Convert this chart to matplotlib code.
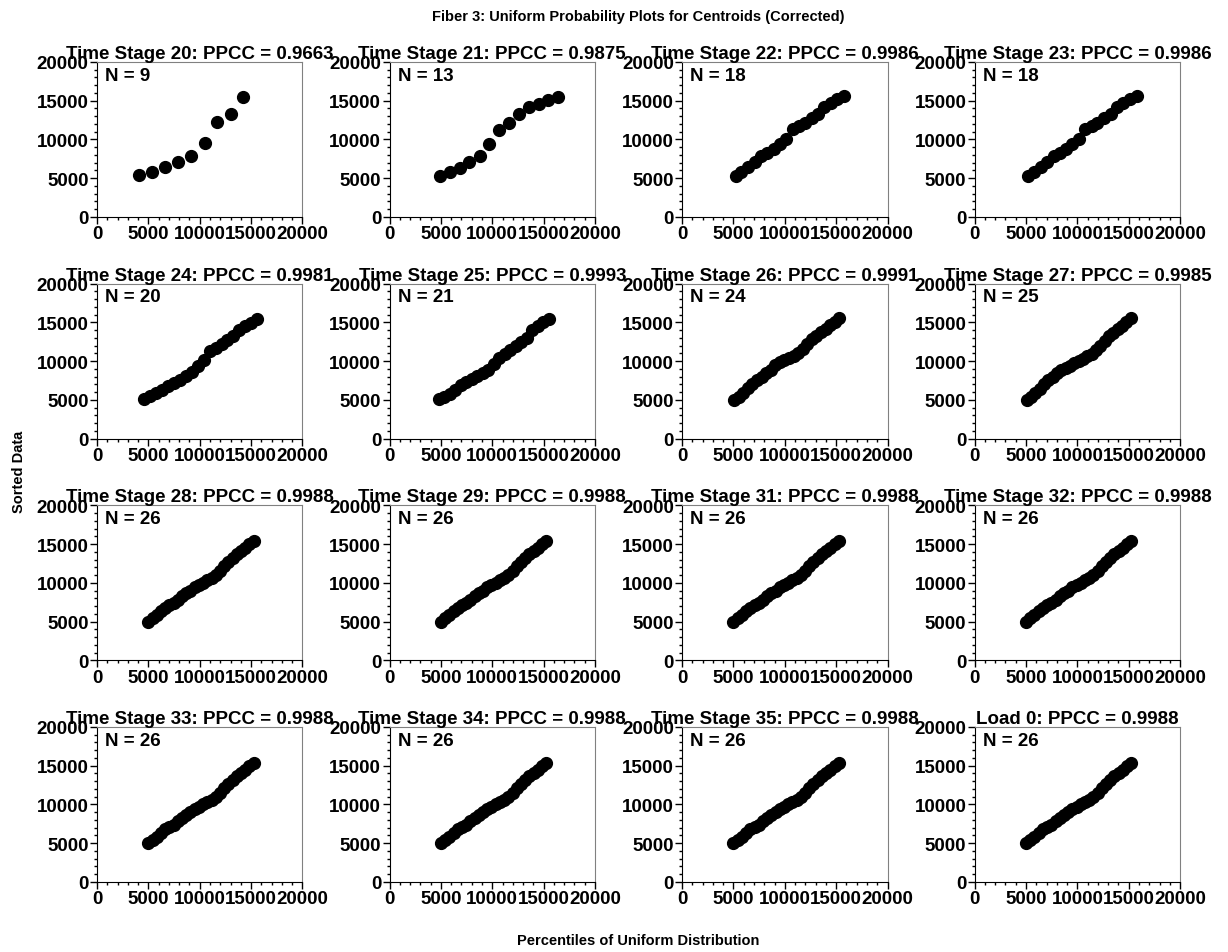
import numpy as np
import matplotlib.pyplot as plt
from matplotlib.ticker import MultipleLocator

plt.rcParams['font.family'] = ['Liberation Sans', 'DejaVu Sans']
plt.rcParams['font.weight'] = 'bold'

# stage data (percentile, sorted centroid)
x20 = [4060, 5370, 6570, 7870, 9170, 10470, 11700, 13000, 14240]
y20 = [5360, 5800, 6400, 7100, 7870, 9520, 12200, 13330, 15500]

x21 = [4900, 5880, 6830, 7780, 8760, 9700, 10690, 11640, 12580, 13530, 14510, 15460, 16400]
y21 = [5220, 5740, 6350, 7040, 7830, 9430, 11220, 12170, 13300, 14130, 14610, 15090, 15480]

x22 = [5210, 5770, 6420, 7070, 7720, 8310, 8920, 9510, 10160, 10750, 11400, 11950,
       12600, 13260, 13840, 14460, 15110, 15770]
y22 = [5300, 5740, 6390, 7040, 7830, 8260, 8700, 9350, 10090, 11300, 11740, 12170,
       12700, 13260, 14130, 14700, 15200, 15570]

x24 = [4620, 5200, 5770, 6350, 6930, 7500, 8080, 8660, 9230, 9810, 10390, 10960,
       11540, 12120, 12690, 13270, 13850, 14420, 15000, 15580]
y24 = [5100, 5500, 5900, 6300, 6800, 7200, 7600, 8100, 8600, 9400, 10200, 11300,
       11750, 12200, 12700, 13200, 14000, 14500, 14950, 15400]

x25 = [4800, 5340, 5870, 6410, 6940, 7480, 8010, 8550, 9080, 9620, 10150, 10690,
       11220, 11760, 12290, 12830, 13360, 13900, 14430, 14970, 15500]
y25 = [5050, 5400, 5800, 6300, 6900, 7300, 7650, 8050, 8500, 8900, 9600, 10400,
       10900, 11400, 11900, 12500, 13000, 14000, 14500, 15000, 15450]

x26 = [5050, 5500, 5940, 6390, 6830, 7280, 7730, 8170, 8620, 9060, 9510, 9960,
       10400, 10850, 11290, 11740, 12180, 12630, 13080, 13520, 13970, 14410, 14860, 15300]
y26 = [5000, 5400, 5900, 6500, 7100, 7500, 7900, 8400, 8900, 9500, 9900, 10200,
       10400, 10700, 11100, 11600, 12200, 12800, 13300, 13800, 14200, 14600, 15000, 15500]

x27 = [5080, 5500, 5920, 6340, 6760, 7180, 7600, 8030, 8450, 8870, 9290, 9710, 10130,
       10550, 10970, 11390, 11810, 12230, 12660, 13080, 13500, 13920, 14340, 14760, 15180]
y27 = [5000, 5400, 5900, 6400, 7100, 7500, 7900, 8400, 8800, 9100, 9400, 9700, 10000,
       10300, 10600, 10900, 11400, 12000, 12600, 13200, 13600, 14100, 14500, 15000, 15500]

# stages 28 .. load 0 all give the same set
x28 = [5000, 5410, 5820, 6230, 6640, 7050, 7460, 7870, 8280, 8690, 9100, 9510, 9920,
       10330, 10740, 11150, 11560, 11970, 12380, 12790, 13200, 13610, 14020, 14430, 14840, 15250]
y28 = [5000, 5400, 5800, 6300, 6800, 7100, 7400, 7800, 8300, 8700, 9000, 9400, 9700,
       10000, 10300, 10600, 11000, 11500, 12100, 12700, 13200, 13700, 14100, 14500, 15000, 15400]

stages = ['Time Stage 20', 'Time Stage 21', 'Time Stage 22', 'Time Stage 23',
          'Time Stage 24', 'Time Stage 25', 'Time Stage 26', 'Time Stage 27',
          'Time Stage 28', 'Time Stage 29', 'Time Stage 31', 'Time Stage 32',
          'Time Stage 33', 'Time Stage 34', 'Time Stage 35', 'Load 0']
ppcc = ['0.9663', '0.9875', '0.9986', '0.9986', '0.9981', '0.9993', '0.9991', '0.9985',
        '0.9988', '0.9988', '0.9988', '0.9988', '0.9988', '0.9988', '0.9988', '0.9988']
xs = [x20, x21, x22, x22, x24, x25, x26, x27] + [x28] * 8
ys = [y20, y21, y22, y22, y24, y25, y26, y27] + [y28] * 8

fig, axis = plt.subplots(4, 4, figsize=(12.28, 9.53), dpi=100)
plt.subplots_adjust(left=0.079, right=0.961, top=0.934, bottom=0.0735,
                    wspace=0.424, hspace=0.43)

for k in range(16):
    ax = axis[k // 4, k % 4]
    ax.plot(xs[k], ys[k], 'o', color='black', ms=8.5)
    ax.set_xlim(0, 20000)
    ax.set_ylim(0, 20000)
    ax.xaxis.set_major_locator(MultipleLocator(5000))
    ax.yaxis.set_major_locator(MultipleLocator(5000))
    ax.xaxis.set_minor_locator(MultipleLocator(1000))
    ax.yaxis.set_minor_locator(MultipleLocator(1000))
    ax.tick_params(which='major', length=5, width=1, labelsize=13.5, pad=1)
    ax.tick_params(which='minor', length=2.5, width=1)
    ax.spines['top'].set_color('#808080')
    ax.spines['right'].set_color('#808080')
    ax.set_title(stages[k] + ': PPCC = ' + ppcc[k], fontsize=13.5, fontweight='bold', pad=2)
    ax.text(0.04, 0.97, 'N = %d' % len(xs[k]), transform=ax.transAxes,
            ha='left', va='top', fontsize=13.5, fontweight='bold')

fig.suptitle('Fiber 3: Uniform Probability Plots for Centroids (Corrected)',
             x=0.52, y=0.99, fontsize=10.5, fontweight='bold')
fig.text(0.52, 0.008, 'Percentiles of Uniform Distribution', ha='center',
         fontsize=10.5, fontweight='bold')
fig.text(0.01, 0.505, 'Sorted Data', va='center', rotation=90,
         fontsize=10.5, fontweight='bold')

plt.savefig('out.png')
